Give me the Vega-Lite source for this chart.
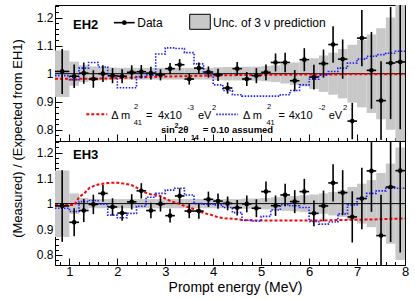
{
  "$schema": "https://vega.github.io/schema/vega-lite/v6.json",
  "padding": {"left": 10, "top": 4, "right": 4, "bottom": 4},
  "background": "white",
  "bounds": "flush",
  "spacing": 0,
  "config": {
    "font": "Liberation Sans",
    "view": {"stroke": "black", "strokeWidth": 1},
    "axis": {"domain": false, "grid": false, "labelFont": "Liberation Sans", "titleFont": "Liberation Sans", "labelColor": "black", "titleColor": "black", "tickColor": "black", "tickWidth": 1, "labelFlush": false, "titleFontWeight": "normal"}
  },
  "datasets": {
    "eh2": [
      {"x":0.85,"xa":0.7,"xb":1.0,"y":1.008,"lo":0.928,"hi":1.088},
      {"x":1.1,"xa":1.0,"xb":1.2,"y":0.991,"lo":0.949,"hi":1.033},
      {"x":1.3,"xa":1.2,"xb":1.4,"y":1.002,"lo":0.964,"hi":1.04},
      {"x":1.5,"xa":1.4,"xb":1.6,"y":0.981,"lo":0.95,"hi":1.012},
      {"x":1.7,"xa":1.6,"xb":1.8,"y":1.0,"lo":0.97,"hi":1.03},
      {"x":1.9,"xa":1.8,"xb":2.0,"y":0.993,"lo":0.966,"hi":1.02},
      {"x":2.1,"xa":2.0,"xb":2.2,"y":0.991,"lo":0.966,"hi":1.016},
      {"x":2.3,"xa":2.2,"xb":2.4,"y":1.005,"lo":0.98,"hi":1.03},
      {"x":2.5,"xa":2.4,"xb":2.6,"y":1.007,"lo":0.983,"hi":1.031},
      {"x":2.7,"xa":2.6,"xb":2.8,"y":1.002,"lo":0.979,"hi":1.025},
      {"x":2.9,"xa":2.8,"xb":3.0,"y":0.996,"lo":0.976,"hi":1.016},
      {"x":3.1,"xa":3.0,"xb":3.2,"y":1.018,"lo":0.998,"hi":1.038},
      {"x":3.3,"xa":3.2,"xb":3.4,"y":1.032,"lo":1.012,"hi":1.052},
      {"x":3.5,"xa":3.4,"xb":3.6,"y":0.981,"lo":0.961,"hi":1.001},
      {"x":3.7,"xa":3.6,"xb":3.8,"y":1.02,"lo":1.0,"hi":1.04},
      {"x":3.9,"xa":3.8,"xb":4.0,"y":1.006,"lo":0.986,"hi":1.026},
      {"x":4.1,"xa":4.0,"xb":4.2,"y":0.996,"lo":0.974,"hi":1.018},
      {"x":4.3,"xa":4.2,"xb":4.4,"y":0.949,"lo":0.929,"hi":0.969},
      {"x":4.5,"xa":4.4,"xb":4.6,"y":1.018,"lo":0.994,"hi":1.042},
      {"x":4.7,"xa":4.6,"xb":4.8,"y":0.981,"lo":0.956,"hi":1.006},
      {"x":4.9,"xa":4.8,"xb":5.0,"y":0.993,"lo":0.966,"hi":1.02},
      {"x":5.1,"xa":5.0,"xb":5.2,"y":1.005,"lo":0.977,"hi":1.033},
      {"x":5.3,"xa":5.2,"xb":5.4,"y":1.04,"lo":1.008,"hi":1.072},
      {"x":5.5,"xa":5.4,"xb":5.6,"y":1.04,"lo":1.005,"hi":1.075},
      {"x":5.7,"xa":5.6,"xb":5.8,"y":0.975,"lo":0.937,"hi":1.013},
      {"x":5.9,"xa":5.8,"xb":6.0,"y":1.05,"lo":1.009,"hi":1.091},
      {"x":6.1,"xa":6.0,"xb":6.2,"y":0.988,"lo":0.944,"hi":1.032},
      {"x":6.3,"xa":6.2,"xb":6.4,"y":1.036,"lo":0.986,"hi":1.086},
      {"x":6.5,"xa":6.4,"xb":6.6,"y":1.104,"lo":1.039,"hi":1.169},
      {"x":6.7,"xa":6.6,"xb":6.8,"y":1.052,"lo":0.982,"hi":1.122},
      {"x":6.9,"xa":6.8,"xb":7.0,"y":0.831,"lo":0.766,"hi":0.896},
      {"x":7.1,"xa":7.0,"xb":7.2,"y":1.127,"lo":1.027,"hi":1.227},
      {"x":7.3,"xa":7.2,"xb":7.4,"y":1.012,"lo":0.875,"hi":1.149},
      {"x":7.5,"xa":7.4,"xb":7.6,"y":0.904,"lo":0.764,"hi":1.044},
      {"x":7.7,"xa":7.6,"xb":7.8,"y":1.038,"lo":0.838,"hi":1.238},
      {"x":7.9,"xa":7.8,"xb":8.0,"y":1.042,"lo":0.802,"hi":1.282}
    ],
    "eh3": [
      {"x":0.85,"xa":0.7,"xb":1.0,"y":0.991,"lo":0.851,"hi":1.131},
      {"x":1.1,"xa":1.0,"xb":1.2,"y":0.927,"lo":0.872,"hi":0.982},
      {"x":1.3,"xa":1.2,"xb":1.4,"y":0.973,"lo":0.928,"hi":1.018},
      {"x":1.5,"xa":1.4,"xb":1.6,"y":0.997,"lo":0.959,"hi":1.035},
      {"x":1.7,"xa":1.6,"xb":1.8,"y":1.04,"lo":1.007,"hi":1.073},
      {"x":1.9,"xa":1.8,"xb":2.0,"y":0.987,"lo":0.953,"hi":1.021},
      {"x":2.1,"xa":2.0,"xb":2.2,"y":0.963,"lo":0.933,"hi":0.993},
      {"x":2.3,"xa":2.2,"xb":2.4,"y":1.007,"lo":0.977,"hi":1.037},
      {"x":2.5,"xa":2.4,"xb":2.6,"y":1.05,"lo":1.02,"hi":1.08},
      {"x":2.7,"xa":2.6,"xb":2.8,"y":0.973,"lo":0.943,"hi":1.003},
      {"x":2.9,"xa":2.8,"xb":3.0,"y":0.999,"lo":0.969,"hi":1.029},
      {"x":3.1,"xa":3.0,"xb":3.2,"y":0.953,"lo":0.926,"hi":0.98},
      {"x":3.3,"xa":3.2,"xb":3.4,"y":1.03,"lo":1.0,"hi":1.06},
      {"x":3.5,"xa":3.4,"xb":3.6,"y":0.971,"lo":0.943,"hi":0.999},
      {"x":3.7,"xa":3.6,"xb":3.8,"y":0.971,"lo":0.941,"hi":1.001},
      {"x":3.9,"xa":3.8,"xb":4.0,"y":1.017,"lo":0.987,"hi":1.047},
      {"x":4.1,"xa":4.0,"xb":4.2,"y":1.01,"lo":0.98,"hi":1.04},
      {"x":4.3,"xa":4.2,"xb":4.4,"y":1.001,"lo":0.974,"hi":1.028},
      {"x":4.5,"xa":4.4,"xb":4.6,"y":0.984,"lo":0.954,"hi":1.014},
      {"x":4.7,"xa":4.6,"xb":4.8,"y":0.999,"lo":0.966,"hi":1.032},
      {"x":4.9,"xa":4.8,"xb":5.0,"y":0.982,"lo":0.947,"hi":1.017},
      {"x":5.1,"xa":5.0,"xb":5.2,"y":1.047,"lo":1.007,"hi":1.087},
      {"x":5.3,"xa":5.2,"xb":5.4,"y":0.992,"lo":0.952,"hi":1.032},
      {"x":5.5,"xa":5.4,"xb":5.6,"y":1.034,"lo":0.99,"hi":1.078},
      {"x":5.7,"xa":5.6,"xb":5.8,"y":1.008,"lo":0.963,"hi":1.053},
      {"x":5.9,"xa":5.8,"xb":6.0,"y":1.047,"lo":0.997,"hi":1.097},
      {"x":6.1,"xa":6.0,"xb":6.2,"y":0.962,"lo":0.912,"hi":1.012},
      {"x":6.3,"xa":6.2,"xb":6.4,"y":0.991,"lo":0.931,"hi":1.051},
      {"x":6.5,"xa":6.4,"xb":6.6,"y":1.081,"lo":1.008,"hi":1.154},
      {"x":6.7,"xa":6.6,"xb":6.8,"y":1.043,"lo":0.955,"hi":1.131},
      {"x":6.9,"xa":6.8,"xb":7.0,"y":0.948,"lo":0.848,"hi":1.048},
      {"x":7.1,"xa":7.0,"xb":7.2,"y":1.02,"lo":0.9,"hi":1.14},
      {"x":7.3,"xa":7.2,"xb":7.4,"y":1.128,"lo":0.968,"hi":1.288},
      {"x":7.5,"xa":7.4,"xb":7.6,"y":0.875,"lo":0.715,"hi":1.035},
      {"x":7.7,"xa":7.6,"xb":7.8,"y":1.065,"lo":0.85,"hi":1.28},
      {"x":7.9,"xa":7.8,"xb":8.0,"y":1.129,"lo":0.809,"hi":1.449}
    ],
    "band2": [
      {"a":0.7,"b":1.0,"lo":0.917,"hi":1.083},
      {"a":1.0,"b":1.2,"lo":0.957,"hi":1.043},
      {"a":1.2,"b":1.4,"lo":0.970,"hi":1.030},
      {"a":1.4,"b":1.6,"lo":0.974,"hi":1.026},
      {"a":1.6,"b":1.8,"lo":0.976,"hi":1.024},
      {"a":1.8,"b":2.0,"lo":0.978,"hi":1.022},
      {"a":2.0,"b":2.2,"lo":0.979,"hi":1.021},
      {"a":2.2,"b":2.4,"lo":0.979,"hi":1.021},
      {"a":2.4,"b":2.6,"lo":0.979,"hi":1.021},
      {"a":2.6,"b":2.8,"lo":0.979,"hi":1.021},
      {"a":2.8,"b":3.0,"lo":0.979,"hi":1.021},
      {"a":3.0,"b":3.2,"lo":0.979,"hi":1.021},
      {"a":3.2,"b":3.4,"lo":0.979,"hi":1.021},
      {"a":3.4,"b":3.6,"lo":0.979,"hi":1.021},
      {"a":3.6,"b":3.8,"lo":0.979,"hi":1.021},
      {"a":3.8,"b":4.0,"lo":0.979,"hi":1.021},
      {"a":4.0,"b":4.2,"lo":0.977,"hi":1.023},
      {"a":4.2,"b":4.4,"lo":0.976,"hi":1.024},
      {"a":4.4,"b":4.6,"lo":0.976,"hi":1.024},
      {"a":4.6,"b":4.8,"lo":0.975,"hi":1.025},
      {"a":4.8,"b":5.0,"lo":0.975,"hi":1.025},
      {"a":5.0,"b":5.2,"lo":0.973,"hi":1.027},
      {"a":5.2,"b":5.4,"lo":0.970,"hi":1.030},
      {"a":5.4,"b":5.6,"lo":0.965,"hi":1.035},
      {"a":5.6,"b":5.8,"lo":0.960,"hi":1.040},
      {"a":5.8,"b":6.0,"lo":0.955,"hi":1.045},
      {"a":6.0,"b":6.2,"lo":0.945,"hi":1.055},
      {"a":6.2,"b":6.4,"lo":0.935,"hi":1.065},
      {"a":6.4,"b":6.6,"lo":0.925,"hi":1.075},
      {"a":6.6,"b":6.8,"lo":0.912,"hi":1.088},
      {"a":6.8,"b":7.0,"lo":0.897,"hi":1.103},
      {"a":7.0,"b":7.2,"lo":0.880,"hi":1.120},
      {"a":7.2,"b":7.4,"lo":0.860,"hi":1.140},
      {"a":7.4,"b":7.6,"lo":0.838,"hi":1.162},
      {"a":7.6,"b":7.8,"lo":0.800,"hi":1.200},
      {"a":7.8,"b":8.0,"lo":0.760,"hi":1.245}
    ],
    "band3": [
      {"a":0.7,"b":1.0,"lo":0.870,"hi":1.130},
      {"a":1.0,"b":1.2,"lo":0.960,"hi":1.040},
      {"a":1.2,"b":1.4,"lo":0.978,"hi":1.022},
      {"a":1.4,"b":1.6,"lo":0.982,"hi":1.018},
      {"a":1.6,"b":1.8,"lo":0.982,"hi":1.018},
      {"a":1.8,"b":2.0,"lo":0.982,"hi":1.018},
      {"a":2.0,"b":2.2,"lo":0.982,"hi":1.018},
      {"a":2.2,"b":2.4,"lo":0.982,"hi":1.018},
      {"a":2.4,"b":2.6,"lo":0.982,"hi":1.018},
      {"a":2.6,"b":2.8,"lo":0.982,"hi":1.018},
      {"a":2.8,"b":3.0,"lo":0.982,"hi":1.018},
      {"a":3.0,"b":3.2,"lo":0.982,"hi":1.018},
      {"a":3.2,"b":3.4,"lo":0.982,"hi":1.018},
      {"a":3.4,"b":3.6,"lo":0.982,"hi":1.018},
      {"a":3.6,"b":3.8,"lo":0.982,"hi":1.018},
      {"a":3.8,"b":4.0,"lo":0.982,"hi":1.018},
      {"a":4.0,"b":4.2,"lo":0.982,"hi":1.018},
      {"a":4.2,"b":4.4,"lo":0.982,"hi":1.018},
      {"a":4.4,"b":4.6,"lo":0.982,"hi":1.018},
      {"a":4.6,"b":4.8,"lo":0.980,"hi":1.020},
      {"a":4.8,"b":5.0,"lo":0.980,"hi":1.020},
      {"a":5.0,"b":5.2,"lo":0.978,"hi":1.022},
      {"a":5.2,"b":5.4,"lo":0.975,"hi":1.025},
      {"a":5.4,"b":5.6,"lo":0.972,"hi":1.028},
      {"a":5.6,"b":5.8,"lo":0.970,"hi":1.030},
      {"a":5.8,"b":6.0,"lo":0.967,"hi":1.033},
      {"a":6.0,"b":6.2,"lo":0.964,"hi":1.036},
      {"a":6.2,"b":6.4,"lo":0.960,"hi":1.040},
      {"a":6.4,"b":6.6,"lo":0.954,"hi":1.046},
      {"a":6.6,"b":6.8,"lo":0.948,"hi":1.052},
      {"a":6.8,"b":7.0,"lo":0.935,"hi":1.065},
      {"a":7.0,"b":7.2,"lo":0.922,"hi":1.078},
      {"a":7.2,"b":7.4,"lo":0.908,"hi":1.092},
      {"a":7.4,"b":7.6,"lo":0.880,"hi":1.120},
      {"a":7.6,"b":7.8,"lo":0.843,"hi":1.157},
      {"a":7.8,"b":8.0,"lo":0.780,"hi":1.220}
    ],
    "blue2": [
      {"x":0.7,"v":0.993},{"x":1.0,"v":0.979},{"x":1.2,"v":1.02},{"x":1.4,"v":1.04},{"x":1.6,"v":1.024},{"x":1.8,"v":0.993},{"x":2.0,"v":0.95},{"x":2.2,"v":0.95},{"x":2.4,"v":0.99},{"x":2.6,"v":0.995},{"x":2.8,"v":1.07},{"x":3.0,"v":1.092},{"x":3.2,"v":1.09},{"x":3.4,"v":1.075},{"x":3.6,"v":1.035},{"x":3.8,"v":1.0},{"x":4.0,"v":0.96},{"x":4.2,"v":0.94},{"x":4.4,"v":0.925},{"x":4.6,"v":0.92},{"x":4.8,"v":0.92},{"x":5.0,"v":0.92},{"x":5.2,"v":0.92},{"x":5.4,"v":0.925},{"x":5.6,"v":0.94},{"x":5.8,"v":0.96},{"x":6.0,"v":0.98},{"x":6.2,"v":0.995},{"x":6.4,"v":1.008},{"x":6.6,"v":1.02},{"x":6.8,"v":1.038},{"x":7.0,"v":1.052},{"x":7.2,"v":1.062},{"x":7.4,"v":1.068},{"x":7.6,"v":1.073},{"x":7.8,"v":1.08},{"x":8.0,"v":1.08}
    ],
    "blue3": [
      {"x":0.7,"v":0.982},{"x":1.0,"v":0.969},{"x":1.2,"v":1.008},{"x":1.4,"v":1.012},{"x":1.6,"v":0.998},{"x":1.8,"v":0.955},{"x":2.0,"v":0.945},{"x":2.2,"v":0.962},{"x":2.4,"v":0.99},{"x":2.6,"v":1.025},{"x":2.8,"v":1.04},{"x":3.0,"v":1.053},{"x":3.2,"v":1.06},{"x":3.4,"v":1.034},{"x":3.6,"v":1.0},{"x":3.8,"v":0.998},{"x":4.0,"v":0.995},{"x":4.2,"v":0.985},{"x":4.4,"v":0.965},{"x":4.6,"v":0.935},{"x":4.8,"v":0.932},{"x":5.0,"v":0.95},{"x":5.2,"v":0.975},{"x":5.4,"v":0.996},{"x":5.6,"v":0.992},{"x":5.8,"v":0.985},{"x":6.0,"v":0.93},{"x":6.2,"v":0.92},{"x":6.4,"v":0.928},{"x":6.6,"v":0.96},{"x":6.8,"v":0.995},{"x":7.0,"v":1.02},{"x":7.2,"v":1.04},{"x":7.4,"v":1.05},{"x":7.6,"v":1.06},{"x":7.8,"v":1.06},{"x":8.0,"v":1.06}
    ],
    "red2": [
      {"x":0.7,"v":0.982},{"x":1.0,"v":0.982},{"x":1.02,"v":0.979},{"x":1.2,"v":0.979},{"x":1.22,"v":0.982},{"x":1.8,"v":0.983},{"x":2.4,"v":0.987},{"x":3.1,"v":0.99},{"x":3.8,"v":0.993},{"x":4.5,"v":0.995},{"x":5.2,"v":0.996},{"x":6.0,"v":0.997},{"x":7.0,"v":0.998},{"x":8.0,"v":0.998}
    ],
    "red3": [
      {"x":0.7,"v":0.995},{"x":1.1,"v":0.995},{"x":1.21,"v":1.027},{"x":1.31,"v":1.04},{"x":1.42,"v":1.062},{"x":1.56,"v":1.073},{"x":1.66,"v":1.077},{"x":1.8,"v":1.081},{"x":2.01,"v":1.082},{"x":2.19,"v":1.077},{"x":2.29,"v":1.073},{"x":2.43,"v":1.06},{"x":2.57,"v":1.044},{"x":2.71,"v":1.036},{"x":2.85,"v":1.034},{"x":2.99,"v":1.021},{"x":3.13,"v":1.008},{"x":3.27,"v":1.001},{"x":3.41,"v":0.99},{"x":3.55,"v":0.982},{"x":3.69,"v":0.971},{"x":3.83,"v":0.962},{"x":3.96,"v":0.956},{"x":4.1,"v":0.947},{"x":4.24,"v":0.943},{"x":4.52,"v":0.939},{"x":4.66,"v":0.935},{"x":4.94,"v":0.934},{"x":6.26,"v":0.934},{"x":6.61,"v":0.936},{"x":7.31,"v":0.938},{"x":8.0,"v":0.942}
    ],
    "ann2": [
      {"x":1.075,"y":1.158,"t":"EH2","k":"head"},
      {"x":2.416,"y":1.1665,"t":"Data","k":"leg"},
      {"x":3.995,"y":1.1665,"t":"Unc. of 3 ν prediction","k":"leg"},
      {"x":1.874,"y":0.837,"t":"Δ m","k":"f"},
      {"x":2.6,"y":0.837,"t":"=","k":"f"},
      {"x":2.848,"y":0.837,"t":"4x10","k":"f"},
      {"x":3.682,"y":0.837,"t":"eV","k":"f"},
      {"x":4.621,"y":0.837,"t":"Δ m","k":"f"},
      {"x":5.36,"y":0.837,"t":"=","k":"f"},
      {"x":5.574,"y":0.837,"t":"4x10","k":"f"},
      {"x":6.408,"y":0.837,"t":"eV","k":"f"},
      {"x":2.35,"y":0.873,"t":"2","k":"s"},
      {"x":2.34,"y":0.818,"t":"41","k":"s"},
      {"x":3.459,"y":0.870,"t":"-3","k":"s"},
      {"x":3.974,"y":0.870,"t":"2","k":"s"},
      {"x":5.12,"y":0.873,"t":"2","k":"s"},
      {"x":5.11,"y":0.818,"t":"41","k":"s"},
      {"x":6.199,"y":0.870,"t":"-2","k":"s"},
      {"x":6.706,"y":0.870,"t":"2","k":"s"},
      {"x":2.911,"y":0.790,"t":"sin","k":"b"},
      {"x":3.265,"y":0.790,"t":"2θ","k":"b"},
      {"x":3.78,"y":0.790,"t":"= 0.10 assumed","k":"b"},
      {"x":3.192,"y":0.807,"t":"2","k":"bs"},
      {"x":3.536,"y":0.764,"t":"14","k":"bs"}
    ]
  },
  "vconcat": [
    {
      "width": 350,
      "height": 136,
      "resolve": {"axis": {"x": "independent", "y": "independent"}},
      "layer": [
        {
          "data": {"name": "band2"},
          "mark": {"type": "rect", "fill": "#c8c8c8"},
          "encoding": {
            "x": {"field": "a", "type": "quantitative", "scale": {"domain": [0.7, 8], "nice": false, "zero": false},
              "axis": {"values": [1,2,3,4,5,6,7,8], "orient": "bottom", "labels": false, "title": null, "tickSize": -7}},
            "x2": {"field": "b"},
            "y": {"field": "lo", "type": "quantitative", "scale": {"domain": [0.76, 1.245], "nice": false, "zero": false},
              "axis": {"values": [0.8, 0.9, 1, 1.1, 1.2], "orient": "left",
                "labelExpr": "datum.value == 1 ? '1' : format(datum.value, '.1f')",
                "labelFontSize": 12, "labelPadding": 9, "tickSize": -7,
                "title": "(Measured) / (Expected from EH1)", "titleFontSize": 13, "titleX": -38, "titleY": 133, "titleAngle": 270, "titleAlign": "center", "titleBaseline": "middle"}},
            "y2": {"field": "hi"}
          }
        },
        {
          "data": {"values": [{"v": 1}]},
          "mark": {"type": "rule", "color": "black", "strokeWidth": 1},
          "encoding": {"y": {"field": "v", "type": "quantitative", "axis": null}}
        },
        {
          "data": {"name": "red2"},
          "mark": {"type": "line", "color": "#ff0000", "strokeWidth": 2, "strokeDash": [3, 2]},
          "encoding": {"x": {"field": "x", "type": "quantitative", "axis": null}, "y": {"field": "v", "type": "quantitative", "axis": null}}
        },
        {
          "data": {"name": "blue2"},
          "mark": {"type": "line", "interpolate": "step-after", "color": "#1a1aff", "strokeWidth": 1.6, "strokeDash": [1.5, 1.5]},
          "encoding": {"x": {"field": "x", "type": "quantitative", "axis": null}, "y": {"field": "v", "type": "quantitative", "axis": null}}
        },
        {
          "data": {"name": "eh2"},
          "mark": {"type": "rule", "color": "black", "strokeWidth": 1.6, "clip": true},
          "encoding": {
            "x": {"field": "x", "type": "quantitative", "axis": {"values": [0.8,1.2,1.4,1.6,1.8,2.2,2.4,2.6,2.8,3.2,3.4,3.6,3.8,4.2,4.4,4.6,4.8,5.2,5.4,5.6,5.8,6.2,6.4,6.6,6.8,7.2,7.4,7.6,7.8], "orient": "bottom", "labels": false, "title": null, "tickSize": -3.5}},
            "y": {"field": "lo", "type": "quantitative", "axis": {"values": [0.76,0.78,0.82,0.84,0.86,0.88,0.92,0.94,0.96,0.98,1.02,1.04,1.06,1.08,1.12,1.14,1.16,1.18,1.22,1.24], "orient": "left", "labels": false, "title": null, "tickSize": -3.5}},
            "y2": {"field": "hi"}
          }
        },
        {
          "data": {"name": "eh2"},
          "mark": {"type": "rule", "color": "black", "strokeWidth": 1.6, "clip": true},
          "encoding": {"x": {"field": "xa", "type": "quantitative", "axis": null}, "x2": {"field": "xb"}, "y": {"field": "y", "type": "quantitative", "axis": null}}
        },
        {
          "data": {"name": "eh2"},
          "mark": {"type": "circle", "color": "black", "size": 22, "opacity": 1},
          "encoding": {"x": {"field": "x", "type": "quantitative", "axis": null}, "y": {"field": "y", "type": "quantitative", "axis": null}}
        },
        {
          "data": {"values": [{"a": 3.509, "b": 3.939, "lo": 1.1583, "hi": 1.2118}]},
          "mark": {"type": "rect", "fill": "#c8c8c8", "stroke": "black", "strokeWidth": 1},
          "encoding": {"x": {"field": "a", "type": "quantitative", "axis": null}, "x2": {"field": "b"}, "y": {"field": "lo", "type": "quantitative", "axis": null}, "y2": {"field": "hi"}}
        },
        {
          "data": {"values": [{"a": 1.93, "b": 2.362, "y": 1.182}]},
          "mark": {"type": "rule", "color": "black", "strokeWidth": 1.6},
          "encoding": {"x": {"field": "a", "type": "quantitative", "axis": null}, "x2": {"field": "b"}, "y": {"field": "y", "type": "quantitative", "axis": null}}
        },
        {
          "data": {"values": [{"x": 2.146, "y": 1.182}]},
          "mark": {"type": "circle", "color": "black", "size": 22, "opacity": 1},
          "encoding": {"x": {"field": "x", "type": "quantitative", "axis": null}, "y": {"field": "y", "type": "quantitative", "axis": null}}
        },
        {
          "data": {"values": [{"a": 1.353, "b": 1.791, "y": 0.855}]},
          "mark": {"type": "rule", "color": "#ff0000", "strokeWidth": 2, "strokeDash": [3, 2]},
          "encoding": {"x": {"field": "a", "type": "quantitative", "axis": null}, "x2": {"field": "b"}, "y": {"field": "y", "type": "quantitative", "axis": null}}
        },
        {
          "data": {"values": [{"a": 4.064, "b": 4.516, "y": 0.855}]},
          "mark": {"type": "rule", "color": "#1a1aff", "strokeWidth": 1.6, "strokeDash": [1.5, 1.5]},
          "encoding": {"x": {"field": "a", "type": "quantitative", "axis": null}, "x2": {"field": "b"}, "y": {"field": "y", "type": "quantitative", "axis": null}}
        },
        {
          "data": {"name": "ann2"},
          "transform": [{"filter": "datum.k == 'head'"}],
          "mark": {"type": "text", "align": "left", "baseline": "alphabetic", "fontSize": 13, "fontWeight": "bold", "color": "black"},
          "encoding": {"x": {"field": "x", "type": "quantitative", "axis": null}, "y": {"field": "y", "type": "quantitative", "axis": null}, "text": {"field": "t"}}
        },
        {
          "data": {"name": "ann2"},
          "transform": [{"filter": "datum.k == 'leg'"}],
          "mark": {"type": "text", "align": "left", "baseline": "alphabetic", "fontSize": 12, "color": "black"},
          "encoding": {"x": {"field": "x", "type": "quantitative", "axis": null}, "y": {"field": "y", "type": "quantitative", "axis": null}, "text": {"field": "t"}}
        },
        {
          "data": {"name": "ann2"},
          "transform": [{"filter": "datum.k == 'f'"}],
          "mark": {"type": "text", "align": "left", "baseline": "alphabetic", "fontSize": 11, "color": "black"},
          "encoding": {"x": {"field": "x", "type": "quantitative", "axis": null}, "y": {"field": "y", "type": "quantitative", "axis": null}, "text": {"field": "t"}}
        },
        {
          "data": {"name": "ann2"},
          "transform": [{"filter": "datum.k == 's'"}],
          "mark": {"type": "text", "align": "left", "baseline": "alphabetic", "fontSize": 7.5, "color": "black"},
          "encoding": {"x": {"field": "x", "type": "quantitative", "axis": null}, "y": {"field": "y", "type": "quantitative", "axis": null}, "text": {"field": "t"}}
        },
        {
          "data": {"name": "ann2"},
          "transform": [{"filter": "datum.k == 'b'"}],
          "mark": {"type": "text", "align": "left", "baseline": "alphabetic", "fontSize": 9.5, "fontWeight": "bold", "color": "black"},
          "encoding": {"x": {"field": "x", "type": "quantitative", "axis": null}, "y": {"field": "y", "type": "quantitative", "axis": null}, "text": {"field": "t"}}
        },
        {
          "data": {"name": "ann2"},
          "transform": [{"filter": "datum.k == 'bs'"}],
          "mark": {"type": "text", "align": "left", "baseline": "alphabetic", "fontSize": 7, "fontWeight": "bold", "color": "black"},
          "encoding": {"x": {"field": "x", "type": "quantitative", "axis": null}, "y": {"field": "y", "type": "quantitative", "axis": null}, "text": {"field": "t"}}
        }
      ]
    },
    {
      "width": 350,
      "height": 124,
      "resolve": {"axis": {"x": "independent", "y": "independent"}},
      "layer": [
        {
          "data": {"name": "band3"},
          "mark": {"type": "rect", "fill": "#c8c8c8"},
          "encoding": {
            "x": {"field": "a", "type": "quantitative", "scale": {"domain": [0.7, 8], "nice": false, "zero": false},
              "axis": {"values": [1,2,3,4,5,6,7,8], "orient": "bottom",
                "labelExpr": "format(datum.value, 'd')",
                "labelFontSize": 13, "labelPadding": 7.5, "tickSize": -7,
                "title": "Prompt energy (MeV)", "titleFontSize": 14, "titleX": 180, "titleY": 26, "titleAlign": "center", "titleBaseline": "alphabetic"}},
            "x2": {"field": "b"},
            "y": {"field": "lo", "type": "quantitative", "scale": {"domain": [0.76, 1.245], "nice": false, "zero": false},
              "axis": {"values": [0.8, 0.9, 1, 1.1, 1.2], "orient": "left",
                "labelExpr": "datum.value == 1 ? '1' : format(datum.value, '.1f')",
                "labelFontSize": 12, "labelPadding": 9, "tickSize": -7,
                "title": null}},
            "y2": {"field": "hi"}
          }
        },
        {
          "data": {"values": [{"v": 1}]},
          "mark": {"type": "rule", "color": "black", "strokeWidth": 1},
          "encoding": {"y": {"field": "v", "type": "quantitative", "axis": null}}
        },
        {
          "data": {"name": "red3"},
          "mark": {"type": "line", "color": "#ff0000", "strokeWidth": 2, "strokeDash": [3, 2]},
          "encoding": {"x": {"field": "x", "type": "quantitative", "axis": null}, "y": {"field": "v", "type": "quantitative", "axis": null}}
        },
        {
          "data": {"name": "blue3"},
          "mark": {"type": "line", "interpolate": "step-after", "color": "#1a1aff", "strokeWidth": 1.6, "strokeDash": [1.5, 1.5]},
          "encoding": {"x": {"field": "x", "type": "quantitative", "axis": null}, "y": {"field": "v", "type": "quantitative", "axis": null}}
        },
        {
          "data": {"name": "eh3"},
          "mark": {"type": "rule", "color": "black", "strokeWidth": 1.6, "clip": true},
          "encoding": {
            "x": {"field": "x", "type": "quantitative", "axis": {"values": [0.8,1.2,1.4,1.6,1.8,2.2,2.4,2.6,2.8,3.2,3.4,3.6,3.8,4.2,4.4,4.6,4.8,5.2,5.4,5.6,5.8,6.2,6.4,6.6,6.8,7.2,7.4,7.6,7.8], "orient": "bottom", "labels": false, "title": null, "tickSize": -3.5}},
            "y": {"field": "lo", "type": "quantitative", "axis": {"values": [0.76,0.78,0.82,0.84,0.86,0.88,0.92,0.94,0.96,0.98,1.02,1.04,1.06,1.08,1.12,1.14,1.16,1.18,1.22,1.24], "orient": "left", "labels": false, "title": null, "tickSize": -3.5}},
            "y2": {"field": "hi"}
          }
        },
        {
          "data": {"name": "eh3"},
          "mark": {"type": "rule", "color": "black", "strokeWidth": 1.6, "clip": true},
          "encoding": {"x": {"field": "xa", "type": "quantitative", "axis": null}, "x2": {"field": "xb"}, "y": {"field": "y", "type": "quantitative", "axis": null}}
        },
        {
          "data": {"name": "eh3"},
          "mark": {"type": "circle", "color": "black", "size": 22, "opacity": 1},
          "encoding": {"x": {"field": "x", "type": "quantitative", "axis": null}, "y": {"field": "y", "type": "quantitative", "axis": null}}
        },
        {
          "data": {"values": [{"x": 1.075, "y": 1.173, "t": "EH3"}]},
          "mark": {"type": "text", "align": "left", "baseline": "alphabetic", "fontSize": 13, "fontWeight": "bold", "color": "black"},
          "encoding": {"x": {"field": "x", "type": "quantitative", "axis": null}, "y": {"field": "y", "type": "quantitative", "axis": null}, "text": {"field": "t"}}
        }
      ]
    }
  ]
}
